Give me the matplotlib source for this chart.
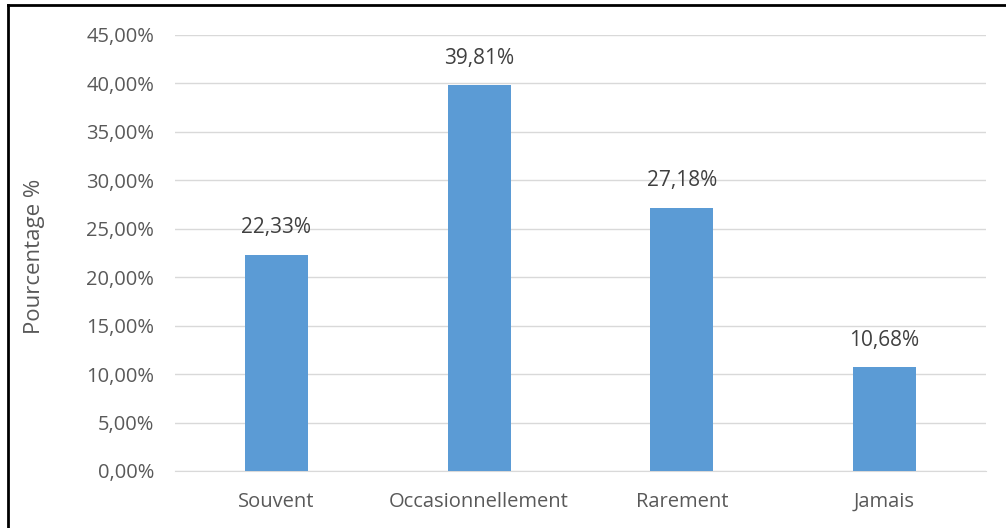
import matplotlib.pyplot as plt
from matplotlib.lines import Line2D
from matplotlib.ticker import FuncFormatter

plt.rcParams['font.family'] = ['Open Sans', 'DejaVu Sans']

categories = ["Souvent", "Occasionnellement", "Rarement", "Jamais"]
values = [22.33, 39.81, 27.18, 10.68]
labels = ["22,33%", "39,81%", "27,18%", "10,68%"]

TEXT = "#595959"

fig = plt.figure(figsize=(10.06, 5.28), dpi=100)
ax = fig.add_axes([0.174, 0.108, 0.806, 0.826])

bars = ax.bar(range(len(categories)), values, width=0.31, color="#5B9BD5", zorder=3)
for b, lab in zip(bars, labels):
    ax.text(b.get_x() + b.get_width() / 2, b.get_height() + 1.7, lab,
            ha="center", va="bottom", fontsize=15, color="#404040")

ax.set_xlim(-0.5, 3.5)
ax.set_ylim(0, 45)
ax.set_yticks([i * 5 for i in range(10)])
ax.yaxis.set_major_formatter(FuncFormatter(lambda v, p: "{:.2f}%".format(v).replace(".", ",")))
ax.set_xticks(range(len(categories)))
ax.set_xticklabels(categories)
ax.tick_params(axis="both", length=0, labelsize=14.5, labelcolor=TEXT)
ax.tick_params(axis="y", pad=15)
ax.tick_params(axis="x", pad=15)
ax.grid(axis="y", color="#D9D9D9", linewidth=1, zorder=0)
for s in ["top", "right", "left"]:
    ax.spines[s].set_visible(False)
ax.spines["bottom"].set_color("#D9D9D9")
ax.set_ylabel("Pourcentage %", fontsize=16, color=TEXT)
ax.yaxis.set_label_coords(-0.160, 0.493)

# outer frame (only top and left visible in the original)
fig.add_artist(Line2D([0.008, 0.008], [0, 0.99], color="black", linewidth=2))
fig.add_artist(Line2D([0.008, 1.0], [0.99, 0.99], color="black", linewidth=2))

fig.savefig("out.png", dpi=100)
